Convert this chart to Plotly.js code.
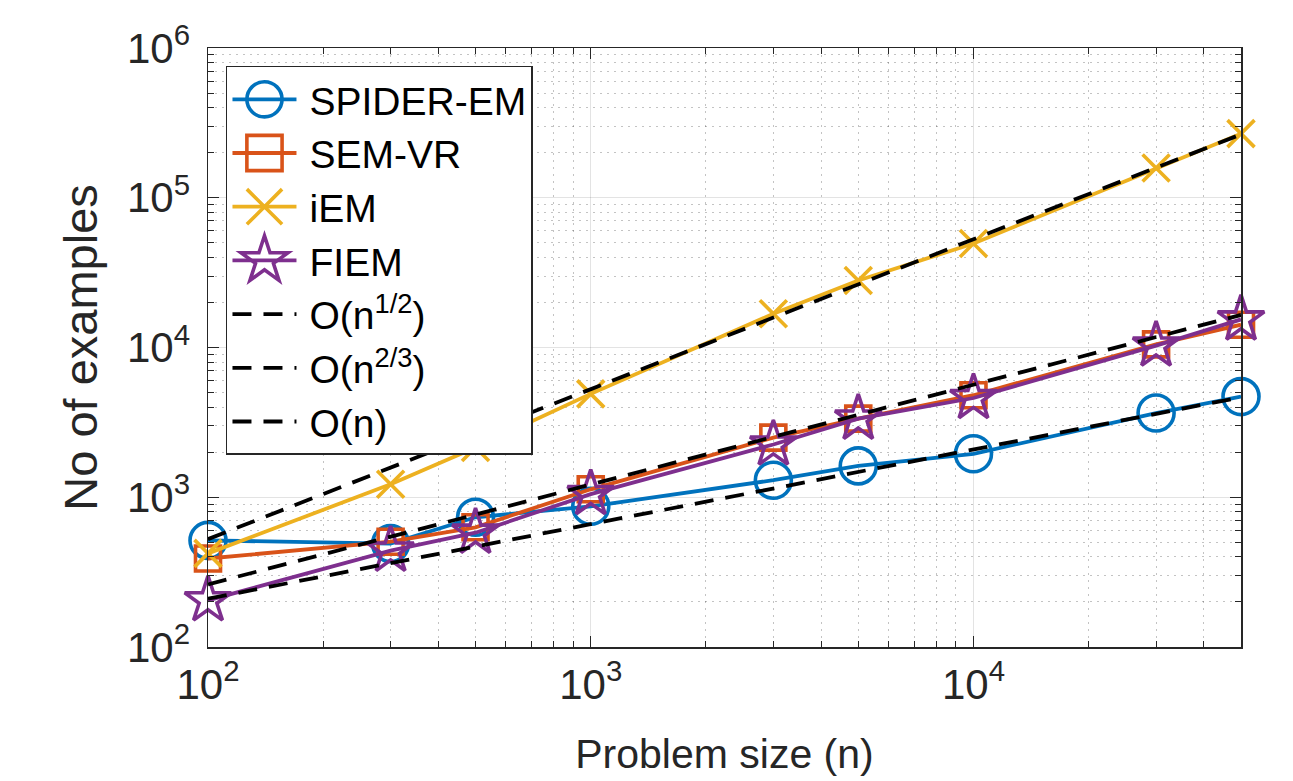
<!DOCTYPE html>
<html>
<head>
<meta charset="utf-8">
<script src="https://cdn.plot.ly/plotly-3.0.1.min.js"></script>
<style>
html,body{margin:0;padding:0;background:#fff;}
#chart{width:1293px;height:781px;}
</style>
</head>
<body>
<div id="chart"></div>
<script>
// ---- data ----
const problemSize = [100, 300, 500, 1000, 3000, 5000, 10000, 30000, 50000];
const spiderEM = [515, 490, 735, 870, 1300, 1620, 1950, 3650, 4700];
const semVR    = [390, 505, 630, 1130, 2500, 3350, 4800, 10500, 14200];
const iEM      = [422, 1220, 2150, 4900, 16800, 28000, 49500, 158000, 268000];
const fiem     = [205, 440, 580, 1050, 2250, 3350, 4600, 10300, 15400];

// reference slope lines (end points)
const refSize = [100, 50000];
const refSqrt = [210, 4650];
const refTwoThirds = [262, 16500];
const refLinear = [525, 265000];

const seriesNames = ['SPIDER-EM', 'SEM-VR', 'iEM', 'FIEM'];
const refNames = ['O(n<sup>1/2</sup>)', 'O(n<sup>2/3</sup>)', 'O(n)'];

const xTickVals = [100, 1000, 10000];
const xTickText = ['10<sup>2</sup>', '10<sup>3</sup>', '10<sup>4</sup>'];
const yTickVals = [100, 1000, 10000, 100000, 1000000];
const yTickText = ['10<sup>2</sup>', '10<sup>3</sup>', '10<sup>4</sup>', '10<sup>5</sup>', '10<sup>6</sup>'];

const xTitle = 'Problem size (n)';
const yTitle = 'No of examples';

// ---- styling ----
const colors = ['#0072BD', '#D95319', '#EDB120', '#7E2F8E'];
const symbols = ['circle-open', 'square-open', 'x-thin-open', 'star-open'];
const sizes = [36, 25, 27, 35];
const font = '"Liberation Sans", Arial, Helvetica, sans-serif';
const axisColor = '#262626';

function minorVals(lo, hi) {
  const out = [];
  for (let d = lo; d < hi; d++) {
    for (let m = 2; m <= 9; m++) out.push(m * Math.pow(10, d));
  }
  return out;
}

const dataSeries = [spiderEM, semVR, iEM, fiem];
const traces = dataSeries.map((ys, i) => ({
  type: 'scatter', mode: 'lines+markers',
  x: problemSize, y: ys, name: seriesNames[i],
  cliponaxis: false,
  line: {color: colors[i], width: 3.8},
  marker: {symbol: symbols[i], size: sizes[i], color: colors[i], line: {color: colors[i], width: 3.6}}
}));
[refSqrt, refTwoThirds, refLinear].forEach((ys, i) => {
  traces.push({
    type: 'scatter', mode: 'lines',
    x: refSize, y: ys, name: refNames[i],
    cliponaxis: false,
    line: {color: '#000000', width: 3.8, dash: '19px,12px'}
  });
});

const gridMajor = 'rgba(38,38,38,0.13)';
const gridMinor = 'rgba(38,38,38,0.28)';

const commonAxis = {
  type: 'log',
  showline: true, linecolor: axisColor, linewidth: 1.5, mirror: 'allticks',
  ticks: 'inside', ticklen: 11, tickwidth: 1.3, tickcolor: axisColor,
  showgrid: true, gridcolor: gridMajor, gridwidth: 1,
  zeroline: false,
  tickmode: 'array'
};

const minorCommon = {
  tickmode: 'array', ticks: 'inside', ticklen: 6, tickcolor: axisColor, tickwidth: 1,
  showgrid: true, gridcolor: gridMinor, griddash: '2px,5px', gridwidth: 1
};

const layout = {
  width: 1293, height: 781,
  margin: {l: 208, r: 52, t: 48, b: 134},
  paper_bgcolor: '#ffffff', plot_bgcolor: '#ffffff',
  showlegend: true,
  xaxis: Object.assign({}, commonAxis, {
    range: [2, Math.log10(50000)],
    tickvals: xTickVals, ticktext: xTickText,
    tickfont: {family: font, size: 42, color: axisColor},
    minor: Object.assign({}, minorCommon, {tickvals: minorVals(2, 5)}),
    title: {text: xTitle, font: {family: font, size: 41, color: axisColor}, standoff: 32}
  }),
  yaxis: Object.assign({}, commonAxis, {
    range: [2, 6],
    tickvals: yTickVals, ticktext: yTickText,
    tickfont: {family: font, size: 42, color: axisColor},
    ticklabelstandoff: 8,
    minor: Object.assign({}, minorCommon, {tickvals: minorVals(2, 6)}),
    title: {text: yTitle, font: {family: font, size: 47, color: axisColor}, standoff: 14}
  }),
  legend: {
    x: 0.0174, y: 0.97, xanchor: 'left', yanchor: 'top',
    bgcolor: '#ffffff', bordercolor: axisColor, borderwidth: 1.5,
    font: {family: font, size: 39, color: '#000000'},
    itemwidth: 72, tracegroupgap: 0
  }
};

Plotly.newPlot('chart', traces, layout, {displayModeBar: false, staticPlot: true}).then(function (gd) {
  // enlarge legend symbols to the reference's proportions
  const lineLen = 64, markerX = 37, scale = 2.2;
  gd.querySelectorAll('.legend .legendlines path').forEach(function (p) {
    p.setAttribute('d', 'M5,0h' + lineLen);
  });
  gd.querySelectorAll('.legend .legendpoints path.scatterpts').forEach(function (p) {
    p.setAttribute('transform', 'translate(' + markerX + ',0) scale(' + scale + ')');
    p.style.vectorEffect = 'non-scaling-stroke';
    p.style.strokeWidth = '3.6px';
  });
});
</script>
</body>
</html>
